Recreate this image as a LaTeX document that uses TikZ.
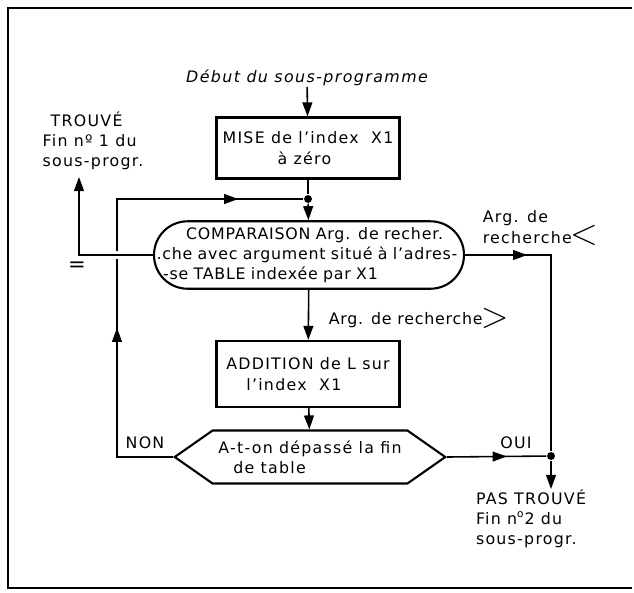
\documentclass[tikz,border=0pt]{standalone}
\usepackage{fontspec}
\setmainfont{DejaVu Sans}[LetterSpace=8]
\usetikzlibrary{arrows.meta, shapes.symbols, decorations.markings}

\tikzset{
  tri/.tip={Triangle[length=8pt, width=5.6pt]},
  midarr/.style={postaction={decorate, decoration={markings, mark=at position #1 with {\arrow{tri}}}}},
}

\begin{document}
\begin{tikzpicture}[x=0.02cm, y=-0.02cm, line width=0.9pt,
  font=\fontsize{9}{11.5}\selectfont,
  box/.style={draw, line width=1.2pt, minimum width=3.66cm, minimum height=1.22cm, align=left},
  term/.style={draw, line width=1.2pt, rounded corners=0.67cm, text width=6.16cm, inner xsep=0.02cm, minimum height=1.34cm, align=left},
  test/.style={draw, line width=1.2pt, signal, signal to=west and east, signal pointer angle=70, minimum width=5.34cm, minimum height=1.06cm, align=left},
  lbl/.style={inner sep=0pt, align=left},
  dot/.style={circle, fill, inner sep=0pt, minimum size=4.5pt}]
  \useasboundingbox (0,0) rectangle (634,592);
  \draw[line width=1.6pt] (632,8) -- (8,8) -- (8,588) -- (632,588);

  \node[lbl] (start) at (307,78) {\itshape\addfontfeatures{LetterSpace=9}Début du sous-programme};
  \node[box] (mise) at (308,148) {MISE de l'index\ \ X1\\\hspace*{1.1cm}à zéro};
  \node[dot] (j1) at (308,199) {};
  \node[term] (comp) at (309,255) {\addfontfeatures{LetterSpace=5}\hspace*{0.62cm}COMPARAISON Arg. de recher.\\\hspace*{0.03cm}.che avec argument situé à l'adres-\\\hspace*{0.16cm}-se TABLE indexée par X1};
  \node[box, minimum height=1.32cm] (add) at (308,374) {ADDITION de L sur\\\hspace*{0.4cm}l'index\ \ X1};
  \node[test] (test) at (310,457) {A-t-on dépassé la fin\\\hspace*{0.3cm}de table};
  \node[dot] (j2) at (551,456) {};

  \node[lbl] (trouve) at (93,141) {\hspace*{0.16cm}TROUVÉ\\Fin nº 1 du\\sous-progr.};
  \node[lbl] (pastrouve) at (531,519) {PAS TROUVÉ\\Fin n\textsuperscript{o}2 du\\sous-progr.};
  \node[lbl, anchor=north west] (argless) at (482,210) {Arg. de\\recherche\hspace{-1pt}\smash{\raisebox{-1pt}{\fontsize{20}{20}\selectfont$<$}}};
  \node[lbl, anchor=west] (argmore) at (328,320) {\addfontfeatures{LetterSpace=5}Arg. de recherche\hspace{-1pt}\smash{\raisebox{-2pt}{\fontsize{20}{20}\selectfont$>$}}};
  \node[lbl] (eq) at (77,267) {\fontsize{12}{12}\selectfont =};
  \node[lbl] (non) at (145,443) {NON};
  \node[lbl] (oui) at (516,443) {OUI};

  \coordinate (lb) at (117,457);
  \coordinate (lc) at (117,199);
  \coordinate (ec) at (79,255);
  \coordinate (e1) at (79,177);
  \coordinate (rc) at (551,255);
  \coordinate (e2) at (551,489);

  \draw[-tri] (start) -- (mise);
  \draw (mise) -- (j1);
  \draw[-tri] (j1) -- (comp);
  \draw[-tri] (comp) -- (add);
  \draw[-tri] (add) -- (test);
  \draw[midarr=0.37, midarr=0.87] (test.west) -- (lb) -- (lc) -- (j1);
  \draw[-tri, preaction={draw=white, line width=4pt, -, shorten <=4pt}] (comp.west) -- (ec) -- (e1);
  \draw[midarr=0.22] (comp.east) -- (rc) -- (j2);
  \draw[midarr=0.6] (test.east) -- (j2);
  \draw[-tri] (j2) -- (e2);
\end{tikzpicture}
\end{document}
